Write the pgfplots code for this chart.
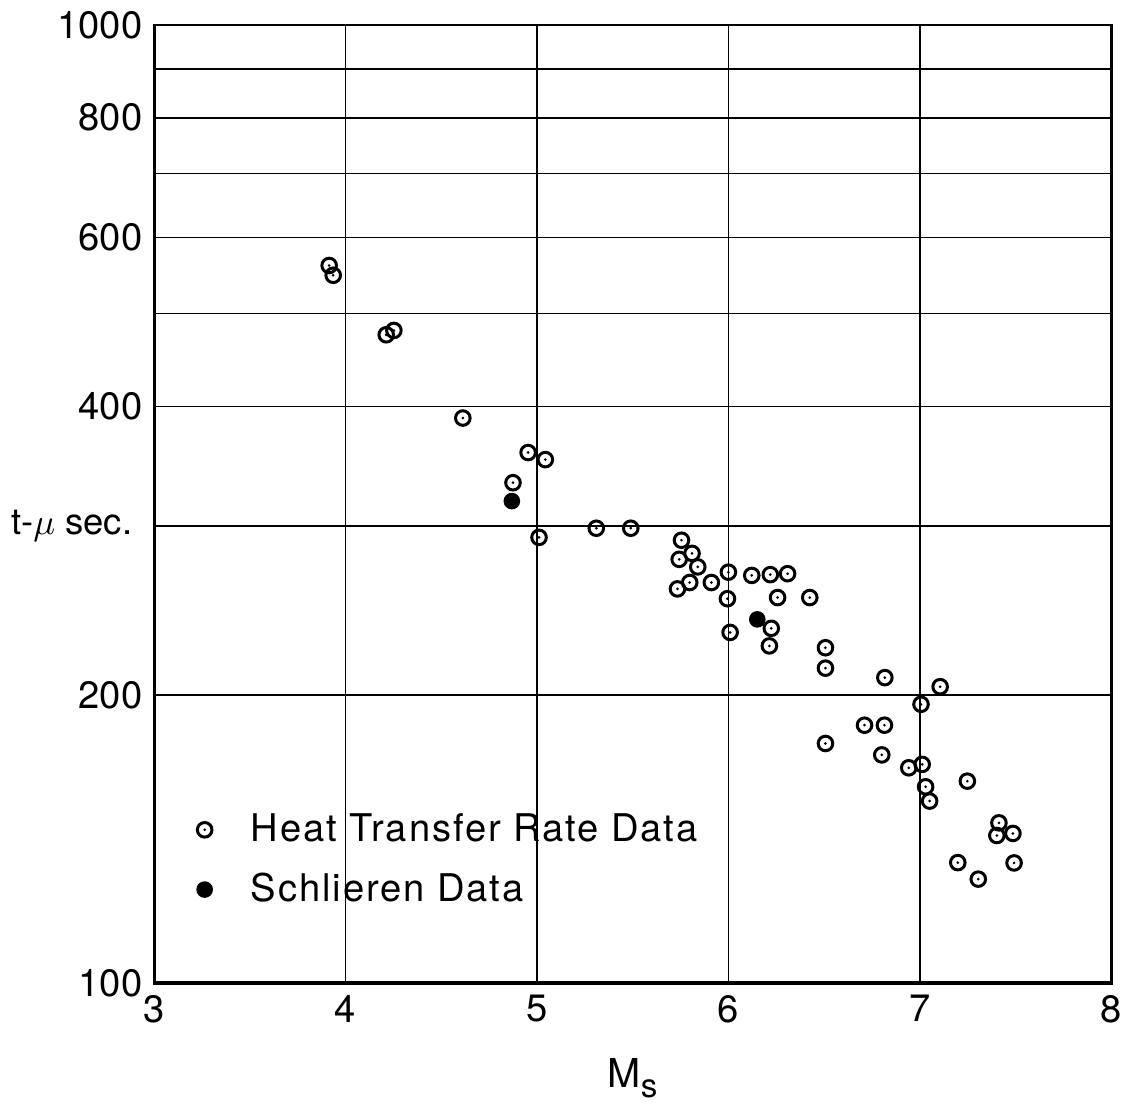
\documentclass[border=0pt]{standalone}
\usepackage{pgfplots}
\pgfplotsset{compat=1.18}
\usepackage{fontspec}
\setmainfont{TeX Gyre Heros}

% open circle with a dot in the middle
\pgfdeclareplotmark{cdot}{%
  \pgfpathcircle{\pgfpoint{0pt}{0pt}}{\pgfplotmarksize}\pgfusepathqstroke
  \pgfpathcircle{\pgfpoint{0pt}{0pt}}{0.45pt}\pgfusepathqfill}

\begin{document}
\begin{tikzpicture}
\begin{axis}[
  scale only axis,
  width=288.6pt, height=289pt,
  xmin=3, xmax=8,
  ymode=log, ymin=100, ymax=1000,
  xtick={3,4,5,6,7,8},
  ytick={100,200,300,400,500,600,700,800,900,1000},
  yticklabels={100,200,,400,,600,,800,,1000},
  /pgf/number format/assume math mode=true,
  tick label style={font=\fontsize{11.5}{13}\selectfont},
  major tick length=0pt, minor tick num=0,
  grid=major,
  grid style={black, line width=0.5pt},
  axis line style={line width=0.7pt},
  xlabel={M\raisebox{-0.45ex}{\fontsize{10}{12}\selectfont s}},
  xlabel style={font=\fontsize{12}{14}\selectfont, yshift=-4pt},
  ylabel={t-$\mu$ sec.},
  ylabel style={rotate=-90, at={(axis description cs:0,0.477)}, anchor=east, xshift=-3pt,
    font=\fontsize{11}{13}\selectfont},
  legend style={draw=none, fill=none, at={(0.032,0.192)}, anchor=north west,
    font=\fontsize{11.5}{13}\selectfont\addfontfeatures{LetterSpace=5}, row sep=4pt},
  legend cell align=left,
  legend image code/.code={%
    \path[draw=none, fill=none] (0cm,0cm) -- (0.52cm,0cm);
    \draw[mark repeat=2,mark phase=2] plot coordinates {(0cm,0cm)(0.1cm,0cm)(0.52cm,0cm)};},
]
\draw[line width=1.3pt] (rel axis cs:0,1) -- (rel axis cs:0,0) -- (rel axis cs:1,0);
\addplot[only marks, mark=cdot, mark size=2.2pt, mark options={line width=0.9pt}] coordinates {
(3.915,561) (3.936,548) (4.213,475) (4.253,480) (4.613,389) (4.954,358) (5.044,352)
(4.875,333) (5.011,292) (5.31,298.5) (5.49,298.5)
(5.755,290) (5.81,281) (5.743,277) (5.84,272) (6.0,268.6) (6.122,266.5) (6.219,267)
(6.309,267.6) (5.911,262) (5.798,262) (5.734,258) (5.995,252) (6.257,252.7) (6.425,252.7)
(6.224,234.7) (6.009,232.4) (6.214,225) (6.507,224) (6.507,213.3) (6.711,186) (6.507,178)
(6.817,208.5) (7.106,204) (7.006,195.6) (6.815,186) (6.801,173.2) (6.942,167.9)
(7.012,169.3) (7.248,162.6) (7.03,160.4) (7.051,155) (7.413,147.1) (7.402,142.7)
(7.486,143.4) (7.198,133.7) (7.492,133.6) (7.305,128.5)
};
\addlegendentry{Heat Transfer Rate Data}
\addplot[only marks, mark=*, mark size=2.3pt, black] coordinates {
(4.869,318.6) (6.151,239.8)
};
\addlegendentry{Schlieren Data}
\end{axis}
\end{tikzpicture}
\end{document}
